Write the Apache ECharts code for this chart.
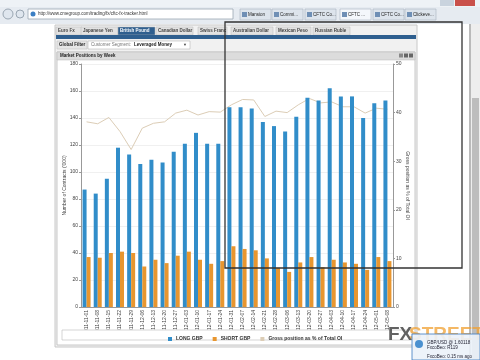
<!DOCTYPE html>
<html><head><meta charset="utf-8">
<script src="https://cdn.jsdelivr.net/npm/echarts@6/dist/echarts.min.js"></script>
<style>html,body{margin:0;padding:0;background:#fff}#c{width:480px;height:360px}</style>
</head><body><div id="c"></div>
<script>
var categories = ['2011-11-01','2011-11-08','2011-11-15','2011-11-22','2011-11-29','2011-12-06','2011-12-13','2011-12-20','2011-12-27','2012-01-03','2012-01-10','2012-01-17','2012-01-24','2012-01-31','2012-02-07','2012-02-14','2012-02-21','2012-02-28','2012-03-06','2012-03-13','2012-03-20','2012-03-27','2012-04-03','2012-04-10','2012-04-17','2012-04-24','2012-05-01','2012-05-08'];
var longGBP = [87,84,95,118,113,106,109,107,115,121,129,121,121,148,148,147,137,134,130,141,155,153,162,156,156,140,151,153];
var shortGBP = [37,36.5,40,41,40,30,35,32.5,38,41,35,32,34,45,43,42,36,29,26,33,37,29.5,35,33,32,27.5,37,34];
var grossPct = [38.1,37.7,39.0,36.1,32.4,36.8,37.8,38.1,39.9,40.5,39.5,40.2,40.1,41.6,42.7,42.6,39.2,40.3,40.0,41.6,42.9,42.0,42.2,41.2,41.2,39.9,40.9,40.7];
var leftTicks = {min:0,max:180,interval:20};
var rightTicks = {min:0,max:50,interval:10};
var tabs = ['Euro Fx','Japanese Yen','British Pound','Canadian Dollar','Swiss Franc','Australian Dollar','Mexican Peso','Russian Ruble'];
var tabX = [58,83,120,158,200,233,278,315];
var tabW = [22,33,33,33,25,38,31,33];

var chart = echarts.init(document.getElementById('c'));
var g = [];
// browser chrome
g.push({type:'rect',shape:{x:0,y:0,width:480,height:24},style:{fill:'#e6ebf1'},z:0});
g.push({type:'rect',shape:{x:0,y:0,width:480,height:7},style:{fill:'#eef2f6'},z:0});
g.push({type:'rect',shape:{x:440,y:0,width:14,height:6},style:{fill:'#c9d3de'},z:1});
g.push({type:'rect',shape:{x:455,y:0,width:20,height:6},style:{fill:'#c9504a'},z:1});
g.push({type:'circle',shape:{cx:8,cy:14,r:5},style:{fill:'#dfe6ee',stroke:'#9aa6b2'},z:1});
g.push({type:'circle',shape:{cx:20,cy:14,r:4},style:{fill:'#dfe6ee',stroke:'#9aa6b2'},z:1});
g.push({type:'rect',shape:{x:28,y:9,width:205,height:10},style:{fill:'#fff',stroke:'#9aa6b2',lineWidth:0.8},z:1});
g.push({type:'text',style:{x:38,y:14,text:'http://www.cmegroup.com/trading/fx/cftc-fx-tracker.html',font:'4.5px Arial',fill:'#333',verticalAlign:'middle'},z:2});
g.push({type:'circle',shape:{cx:33,cy:14,r:2.5},style:{fill:'#3b7fc4'},z:2});
var btabs=['Mansion','Commi...','CFTC Co...','CFTC ...','CFTC Co...','Clickeve...'];
var btx=[240,272,305,340,373,405];
for(var i=0;i<btabs.length;i++){
  g.push({type:'rect',shape:{x:btx[i],y:9,width:31,height:11},style:{fill:i==3?'#f4f7fb':'#dde4ec',stroke:'#a8b3bf',lineWidth:0.6},z:1});
  g.push({type:'text',style:{x:btx[i]+8,y:14.5,text:btabs[i],font:'4.5px Arial',fill:'#222',verticalAlign:'middle'},z:2});
  g.push({type:'rect',shape:{x:btx[i]+2,y:12,width:5,height:5},style:{fill:'#6f8fb5'},z:2});
}
g.push({type:'rect',shape:{x:0,y:24,width:480,height:336},style:{fill:'#ffffff'},z:0});
// scrollbar
g.push({type:'rect',shape:{x:471,y:24,width:9,height:336},style:{fill:'#eeeeee'},z:0});
g.push({type:'rect',shape:{x:472,y:98,width:7,height:262},style:{fill:'#bdbdbd'},z:1});
g.push({type:'line',shape:{x1:470,y1:24,x2:470,y2:360},style:{stroke:'#777',lineWidth:1},z:1});
// app panel
g.push({type:'rect',shape:{x:55,y:25,width:362,height:322},style:{fill:'#f1f1f1',stroke:'#c8c8c8',lineWidth:1},z:0});
for(var i=0;i<tabs.length;i++){
  var sel = i==2;
  g.push({type:'rect',shape:{x:tabX[i]-2,y:27,width:tabW[i]+4,height:8},style:{fill:sel?'#2f5f8f':'#e2e2e2',stroke:'#bbb',lineWidth:0.5},z:1});
  g.push({type:'text',style:{x:tabX[i],y:31,text:tabs[i],font:'bold 4.5px Arial',fill:sel?'#fff':'#444',verticalAlign:'middle'},z:2});
}
g.push({type:'rect',shape:{x:56,y:35,width:360,height:4},style:{fill:'#2f5f8f'},z:1});
g.push({type:'rect',shape:{x:57,y:41,width:30,height:8},style:{fill:'#e6e6e6',stroke:'#bbb',lineWidth:0.5},z:1});
g.push({type:'text',style:{x:59,y:45,text:'Global Filter',font:'bold 4.5px Arial',fill:'#222',verticalAlign:'middle'},z:2});
g.push({type:'rect',shape:{x:88,y:41,width:102,height:8},style:{fill:'#fff',stroke:'#aaa',lineWidth:0.5},z:1});
g.push({type:'text',style:{x:91,y:45,text:'Customer Segment:',font:'4.5px Arial',fill:'#777',verticalAlign:'middle'},z:2});
g.push({type:'text',style:{x:134,y:45,text:'Leveraged Money',font:'bold 4.5px Arial',fill:'#222',verticalAlign:'middle'},z:2});
g.push({type:'text',style:{x:183,y:45,text:'▼',font:'4px Arial',fill:'#444',verticalAlign:'middle'},z:2});
// chart container
g.push({type:'rect',shape:{x:57,y:52,width:358,height:293},style:{fill:'#fff',stroke:'#bbb',lineWidth:0.8},z:0});
g.push({type:'rect',shape:{x:57,y:52,width:358,height:8},style:{fill:'#dcdcdc',stroke:'#bbb',lineWidth:0.5},z:1});
g.push({type:'text',style:{x:60,y:56,text:'Market Positions by Week',font:'bold 4.5px Arial',fill:'#222',verticalAlign:'middle'},z:2});
g.push({type:'rect',shape:{x:399,y:53.5,width:4,height:4},style:{fill:'#888'},z:2});
g.push({type:'rect',shape:{x:404,y:53.5,width:4,height:4},style:{fill:'#666'},z:2});
g.push({type:'rect',shape:{x:409,y:53.5,width:4,height:4},style:{fill:'#666'},z:2});
// legend box
g.push({type:'rect',shape:{x:62,y:330,width:350,height:10},style:{fill:'#fff',stroke:'#bbb',lineWidth:0.6},z:1});
// drag rectangle
g.push({type:'rect',shape:{x:225,y:22,width:237,height:246},style:{fill:'none',stroke:'#333',lineWidth:1.3},z:50});
// logo + popup
g.push({type:'text',style:{x:388,y:335,text:'FX',font:'bold 19px Arial',fill:'rgba(70,70,70,0.85)',verticalAlign:'middle'},z:40});
g.push({type:'text',style:{x:409,y:335,text:'STREET',font:'bold 19px Arial',fill:'rgba(240,160,50,0.75)',verticalAlign:'middle'},z:40});
g.push({type:'rect',shape:{x:412,y:334,width:68,height:26},style:{fill:'rgba(235,242,250,0.9)',stroke:'#3a78c0',lineWidth:0.8},z:41});
g.push({type:'circle',shape:{cx:419,cy:344,r:4},style:{fill:'#4a90d0'},z:42});
g.push({type:'text',style:{x:427,y:343,text:'GBP/USD @ 1.60118',font:'4.5px Arial',fill:'#223',verticalAlign:'middle'},z:42});
g.push({type:'text',style:{x:427,y:348,text:'FxcoBeo: R119',font:'4.5px Arial',fill:'#223',verticalAlign:'middle'},z:42});
g.push({type:'text',style:{x:427,y:357,text:'FxcoBeo: 0.15 ms ago',font:'4.5px Arial',fill:'#223',verticalAlign:'middle'},z:42});

chart.setOption({
  animation:false,
  graphic:g,
  grid:{left:81,right:87,top:64,bottom:53,containLabel:false},
  legend:{
    data:['LONG GBP','SHORT GBP','Gross position as % of Total OI'],
    left:163,top:331.5,itemWidth:4,itemHeight:4,itemGap:10,
    textStyle:{fontSize:5,fontWeight:'bold',color:'#333',padding:[0,0,0,-1]},
    icon:'rect'
  },
  xAxis:{type:'category',data:categories,
    axisLine:{lineStyle:{color:'#999'}},
    axisTick:{alignWithLabel:true,length:2,lineStyle:{color:'#999'}},
    axisLabel:{rotate:90,fontSize:5,color:'#444',margin:3,interval:0}},
  yAxis:[
    {type:'value',min:leftTicks.min,max:leftTicks.max,interval:leftTicks.interval,
     name:"Number of Contracts ('000)",nameLocation:'middle',nameGap:14,nameMoveOverlap:false,nameTextStyle:{fontSize:5,color:'#444'},
     axisLine:{show:true,lineStyle:{color:'#999'}},axisTick:{show:true,length:2,lineStyle:{color:'#999'}},
     axisLabel:{fontSize:5,color:'#444',margin:3},
     splitLine:{lineStyle:{color:'#f0f0f0',width:1}}},
    {type:'value',min:rightTicks.min,max:rightTicks.max,interval:rightTicks.interval,position:'right',
     name:'Gross position as % of Total OI',nameLocation:'middle',nameGap:12,nameMoveOverlap:false,nameRotate:-90,nameTextStyle:{fontSize:5,color:'#444'},
     axisLine:{show:true,lineStyle:{color:'#999'}},axisTick:{show:true,length:2,lineStyle:{color:'#999'}},
     axisLabel:{fontSize:5,color:'#444',margin:3},splitLine:{show:false}}
  ],
  series:[
    {name:'LONG GBP',type:'bar',data:longGBP,barWidth:4,barGap:'0%',itemStyle:{color:'#318dc9'},z:3},
    {name:'SHORT GBP',type:'bar',data:shortGBP,barWidth:4,barGap:'0%',itemStyle:{color:'#e8962f'},z:3},
    {name:'Gross position as % of Total OI',type:'line',yAxisIndex:1,data:grossPct,symbol:'none',
     lineStyle:{color:'#dccdb6',width:1},itemStyle:{color:'#dccdb6'},z:2}
  ]
});
</script></body></html>
